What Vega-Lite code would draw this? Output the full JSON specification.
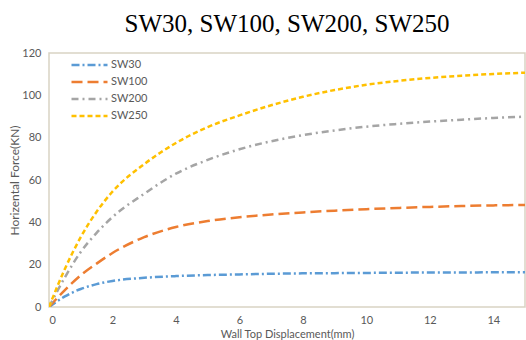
{
  "$schema": "https://vega.github.io/schema/vega-lite/v6.json",
  "width": 476,
  "height": 254,
  "autosize": {"type": "none"},
  "padding": {"left": 49, "top": 53, "right": 1, "bottom": 33},
  "title": {
    "text": "SW30, SW100, SW200, SW250",
    "font": "Liberation Serif",
    "fontSize": 25,
    "fontWeight": "normal",
    "color": "#000000",
    "anchor": "middle",
    "offset": 10
  },
  "config": {
    "view": {"stroke": "#d9d3c3", "strokeWidth": 1.5},
    "axis": {
      "domain": false,
      "ticks": false,
      "grid": false,
      "labelFont": "Lato",
      "labelFontSize": 11,
      "labelColor": "#595959",
      "titleFont": "Lato",
      "titleFontSize": 12,
      "titleFontWeight": "normal",
      "titleColor": "#595959"
    }
  },
  "data": {
    "values": [
      {"disp": 0, "SW30": 0, "SW100": 0, "SW200": 0, "SW250": 0},
      {"disp": 0.5, "SW30": 5, "SW100": 8, "SW200": 14, "SW250": 18},
      {"disp": 1, "SW30": 8.5, "SW100": 15, "SW200": 26, "SW250": 33},
      {"disp": 1.5, "SW30": 10.8, "SW100": 20.5, "SW200": 35, "SW250": 45},
      {"disp": 2, "SW30": 12.3, "SW100": 25.5, "SW200": 42.5, "SW250": 54.5},
      {"disp": 3, "SW30": 13.8, "SW100": 33, "SW200": 53.5, "SW250": 67.5},
      {"disp": 4, "SW30": 14.6, "SW100": 37.8, "SW200": 63, "SW250": 77.5},
      {"disp": 5, "SW30": 15.1, "SW100": 40.6, "SW200": 69.5, "SW250": 85},
      {"disp": 6, "SW30": 15.4, "SW100": 42.4, "SW200": 74.5, "SW250": 90.5},
      {"disp": 7, "SW30": 15.7, "SW100": 43.7, "SW200": 78.3, "SW250": 95.3},
      {"disp": 8, "SW30": 15.9, "SW100": 44.7, "SW200": 81.2, "SW250": 99.3},
      {"disp": 9, "SW30": 16, "SW100": 45.5, "SW200": 83.4, "SW250": 102.5},
      {"disp": 10, "SW30": 16.1, "SW100": 46.2, "SW200": 85.2, "SW250": 105},
      {"disp": 11, "SW30": 16.2, "SW100": 46.8, "SW200": 86.5, "SW250": 106.8},
      {"disp": 12, "SW30": 16.3, "SW100": 47.3, "SW200": 87.6, "SW250": 108.2},
      {"disp": 13, "SW30": 16.3, "SW100": 47.7, "SW200": 88.5, "SW250": 109.3},
      {"disp": 14, "SW30": 16.4, "SW100": 48, "SW200": 89.3, "SW250": 110.1},
      {"disp": 15, "SW30": 16.4, "SW100": 48.2, "SW200": 89.9, "SW250": 110.7}
    ]
  },
  "transform": [
    {"fold": ["SW30", "SW100", "SW200", "SW250"], "as": ["series", "force"]}
  ],
  "mark": {"type": "line", "interpolate": "monotone", "strokeWidth": 2.5, "clip": true},
  "encoding": {
    "x": {
      "field": "disp",
      "type": "quantitative",
      "scale": {"domain": [0, 15], "nice": false},
      "axis": {
        "values": [0, 2, 4, 6, 8, 10, 12, 14],
        "title": "Wall Top Displacement(mm)",
        "labelPadding": 7,
        "titleFontSize": 11,
        "titlePadding": 3
      }
    },
    "y": {
      "field": "force",
      "type": "quantitative",
      "scale": {"domain": [0, 120], "nice": false},
      "axis": {
        "values": [0, 20, 40, 60, 80, 100, 120],
        "title": "Horizental Force(KN)",
        "labelPadding": 8,
        "titlePadding": 0
      }
    },
    "color": {
      "field": "series",
      "type": "nominal",
      "scale": {
        "domain": ["SW30", "SW100", "SW200", "SW250"],
        "range": ["#5b9bd5", "#ed7d31", "#a5a5a5", "#ffc000"]
      },
      "legend": {
        "title": null,
        "orient": "none",
        "legendX": 34.5,
        "legendY": 6,
        "symbolType": "M-4,0H4",
        "symbolSize": 81,
        "symbolStrokeWidth": 2.5,
        "labelFont": "Lato",
        "labelFontSize": 11,
        "labelColor": "#595959",
        "labelOffset": 15.5,
        "rowPadding": 6
      }
    },
    "strokeDash": {
      "field": "series",
      "type": "nominal",
      "scale": {
        "domain": ["SW30", "SW100", "SW200", "SW250"],
        "range": [[8, 3, 2, 3], [11, 5], [7, 4, 2, 4], [5, 3]]
      },
      "legend": {
        "title": null,
        "orient": "none",
        "legendX": 34.5,
        "legendY": 6,
        "symbolType": "M-4,0H4",
        "symbolSize": 81,
        "symbolStrokeWidth": 2.5,
        "labelFont": "Lato",
        "labelFontSize": 11,
        "labelColor": "#595959",
        "labelOffset": 15.5,
        "rowPadding": 6
      }
    }
  }
}
